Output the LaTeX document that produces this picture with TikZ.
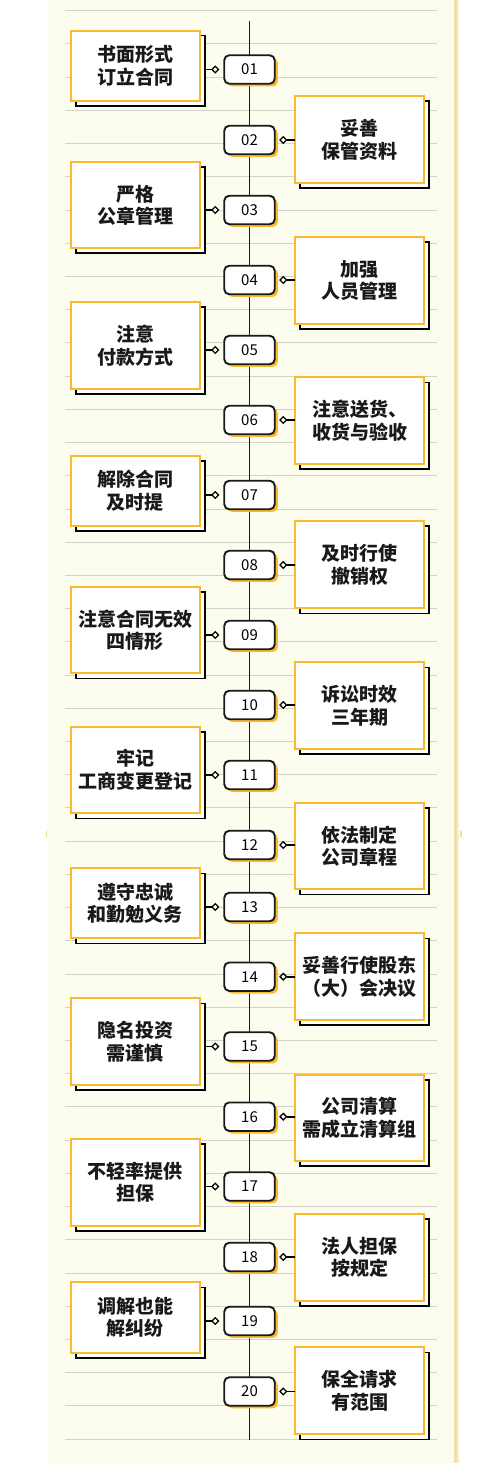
\documentclass[tikz,border=0pt]{standalone}
\usepackage{fontspec}
\newfontfamily\cjk{Noto Sans CJK SC}
\usetikzlibrary{shapes.geometric}
\definecolor{panelbg}{HTML}{FCFDEF}
\definecolor{edgeA}{HTML}{EDE0AE}
\definecolor{edgeB}{HTML}{F6EFCF}
\definecolor{rulecol}{HTML}{D2D2CA}
\definecolor{orangeb}{HTML}{FBBA2C}
\definecolor{tickcol}{HTML}{F4D9A0}
\tikzset{
  shadowbox/.style={draw=black, line width=1.6pt, fill=white, minimum width=129.3pt, inner sep=0pt, outer sep=0pt},
  frontbox/.style={draw=orangeb, line width=1.8pt, fill=white, minimum width=129.3pt, inner sep=0pt, outer sep=0pt, align=center, text=black!90, font=\cjk\bfseries\fontsize{19}{22.5}\selectfont},
  numshadow/.style={fill=orangeb, rounded corners=5pt, minimum width=50.5pt, minimum height=28.5pt, inner sep=0pt, outer sep=0pt},
  numbox/.style={draw=black!90, line width=1.9pt, fill=white, rounded corners=5pt, minimum width=50.5pt, minimum height=28.5pt, inner sep=0pt, outer sep=0pt, font=\cjk\fontsize{15}{15}\selectfont},
  diam/.style={diamond, draw=black, line width=1.3pt, fill=white, minimum width=6.5pt, minimum height=6.5pt, inner sep=0pt, outer sep=0pt},
  conn/.style={draw=black, line width=1.6pt},
  spine/.style={draw=black!90, line width=1.6pt},
  rulestyle/.style={draw=rulecol, line width=1pt}
}
\newcommand\leftitem[5]{%
  \node[shadowbox, minimum height={#3-#2}] (s#1) at (140.35,{(#2+#3)/2+5}) {};
  \node[frontbox, minimum height={#3-#2}] (b#1) at (135.35,{(#2+#3)/2}) {#5};
  \node[numshadow] (ns#1) at (252.5,{#4+2.7}) {};
  \node[numbox] (n#1) at (249.5,#4) {#1};
  \node[diam] (d#1) at (215.3,#4) {};
  \draw[conn] (d#1.west) -- (d#1.west -| s#1.east);
}
\newcommand\rightitem[5]{%
  \node[shadowbox, minimum height={#3-#2}] (s#1) at (364.5,{(#2+#3)/2+5}) {};
  \node[frontbox, minimum height={#3-#2}] (b#1) at (359.5,{(#2+#3)/2}) {#5};
  \node[numshadow] (ns#1) at (252.5,{#4+2.7}) {};
  \node[numbox] (n#1) at (249.5,#4) {#1};
  \node[diam] (d#1) at (283.3,#4) {};
  \draw[conn] (d#1.east) -- (d#1.east -| b#1.west);
}
\begin{document}
\begin{tikzpicture}[x=1pt, y=-1pt]
\useasboundingbox (0,0) rectangle (500,1463);
\fill[white] (0,0) rectangle (500,1463);
\fill[panelbg] (47.3,0) rectangle (454,1463);
\fill[edgeA] (454,0) rectangle (456.5,1463);
\fill[edgeB] (456.5,0) rectangle (459,1463);
\fill[tickcol] (45.7,830.7) rectangle (46.9,837);
\fill[tickcol] (460.4,830.7) rectangle (461.6,837);
\foreach \k in {0,...,43} {
  \draw[rulestyle] (65,{10.7+33.22*\k}) -- (436.7,{10.7+33.22*\k});
}
\coordinate (spinetop) at (249.5,21);
\coordinate (spinebot) at (249.5,1440);
\draw[spine] (spinetop) -- (spinebot);
\leftitem{01}{30.7}{101}{69.5}{书面形式\\订立合同}
\rightitem{02}{96}{183.3}{140}{妥善\\保管资料}
\leftitem{03}{162}{248.3}{210}{严格\\公章管理}
\rightitem{04}{237.3}{324}{280}{加强\\人员管理}
\leftitem{05}{302}{389}{350}{注意\\付款方式}
\rightitem{06}{377.3}{464}{420}{注意送货、\\收货与验收}
\leftitem{07}{455.7}{526}{495}{解除合同\\及时提}
\rightitem{08}{521}{608.3}{565}{及时行使\\撤销权}
\leftitem{09}{586.7}{673.3}{635}{注意合同无效\\四情形}
\rightitem{10}{662.3}{749}{705}{诉讼时效\\三年期}
\leftitem{11}{726.7}{813.3}{775}{牢记\\工商变更登记}
\rightitem{12}{802.7}{889.3}{845}{依法制定\\公司章程}
\leftitem{13}{868.3}{938.3}{907}{遵守忠诚\\和勤勉义务}
\rightitem{14}{933.3}{1020}{976.7}{妥善行使股东\\（大）会决议}
\leftitem{15}{998.3}{1085}{1046.5}{隐名投资\\需谨慎}
\rightitem{16}{1075}{1161}{1116.7}{公司清算\\需成立清算组}
\leftitem{17}{1139}{1225.7}{1186.5}{不轻率提供\\担保}
\rightitem{18}{1214}{1301}{1257}{法人担保\\按规定}
\leftitem{19}{1282.3}{1352.7}{1321}{调解也能\\解纠纷}
\rightitem{20}{1347.3}{1434.3}{1391.5}{保全请求\\有范围}
\end{tikzpicture}
\end{document}
